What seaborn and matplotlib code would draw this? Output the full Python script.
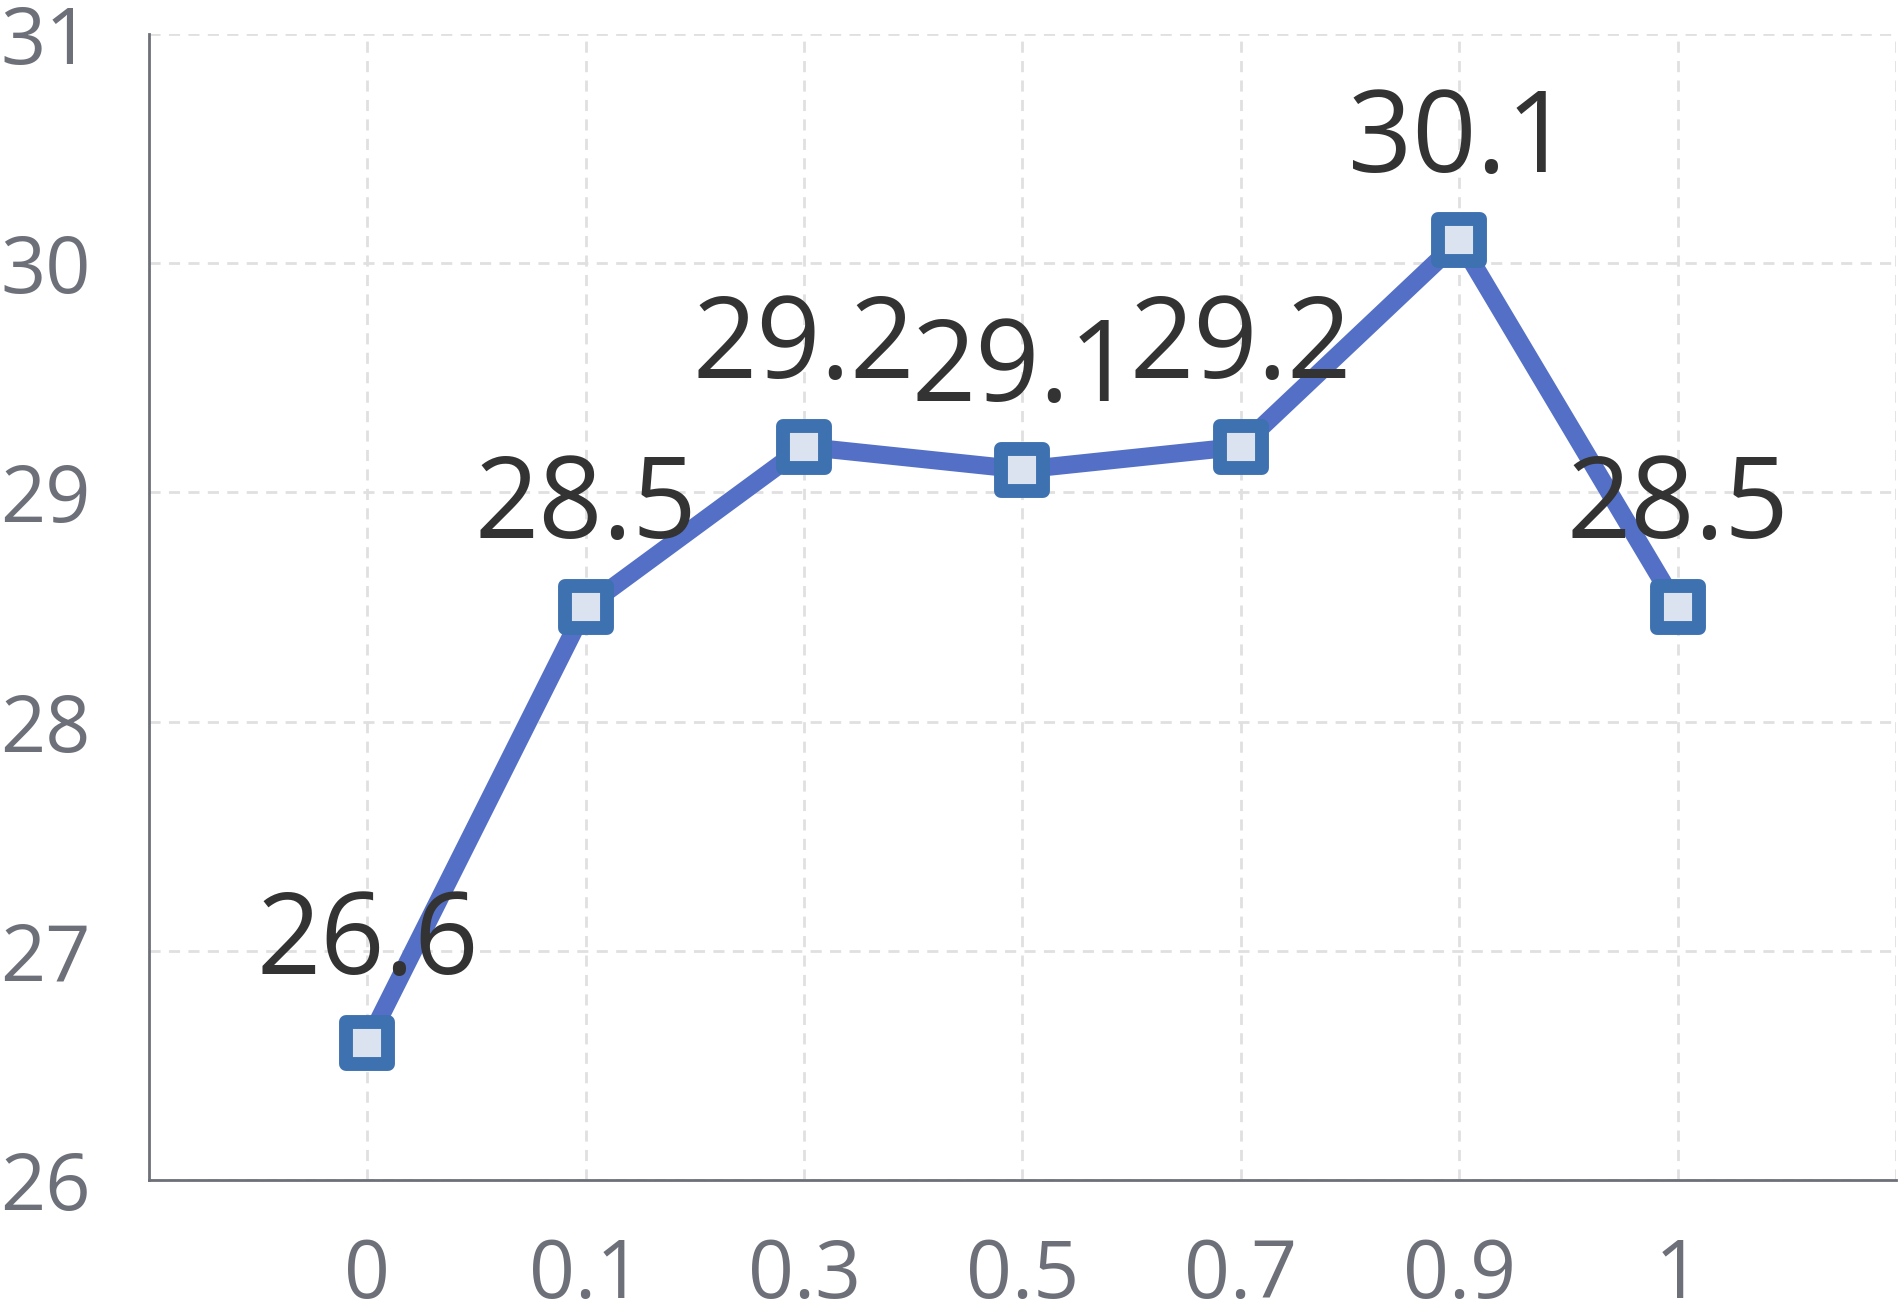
import numpy as np
import matplotlib.pyplot as plt
from matplotlib.markers import MarkerStyle
import seaborn as sns

# chart data
x_labels = ['0', '0.1', '0.3', '0.5', '0.7', '0.9', '1']
scores = [26.6, 28.5, 29.2, 29.1, 29.2, 30.1, 28.5]
y_ticks = [26, 27, 28, 29, 30, 31]

sns.set_style("white")
plt.rcParams['font.family'] = ['Open Sans', 'DejaVu Sans']

axis_color = '#6e7079'
grid_color = '#e0e0e0'

fig = plt.figure(figsize=(19.03, 13.12), dpi=100)
ax = fig.add_axes([0.0783, 0.1006, 0.918, 0.8734])

pos = np.arange(len(x_labels))

# dashed grid
for yv in y_ticks:
    ax.axhline(yv, color=grid_color, lw=2, ls=(0, (4, 3)), zorder=0)
for xv in list(pos) + [len(x_labels)]:
    ax.axvline(xv, color=grid_color, lw=2, ls=(0, (4, 3)), zorder=0)

marker = MarkerStyle('s', joinstyle='round')
sns.lineplot(x=pos, y=scores, ax=ax, color='#5470c6', linewidth=13,
             marker=marker, markersize=30, markeredgewidth=10,
             markeredgecolor='#3e71b0', markerfacecolor='#dce3f0', zorder=3)

for xv, yv in zip(pos, scores):
    ax.annotate(f'{yv}', (xv, yv), xytext=(0, 71), textcoords='offset points',
                ha='center', va='center', fontsize=81, color='#333333', zorder=4)

ax.set_xlim(-1, len(x_labels))
ax.set_ylim(26, 31)
ax.set_yticks(y_ticks)
ax.set_xticks(list(range(-1, len(x_labels) + 1)))
ax.set_xticklabels([''] + x_labels + [''])

for side in ['top', 'right']:
    ax.spines[side].set_visible(False)
for side in ['left', 'bottom']:
    ax.spines[side].set_color(axis_color)
    ax.spines[side].set_linewidth(2)

ax.tick_params(axis='y', length=11, width=2, color=axis_color, labelcolor=axis_color,
               labelsize=57, pad=31)
ax.tick_params(axis='x', length=8, width=2, color=axis_color, labelcolor=axis_color,
               labelsize=58, pad=33)
ax.set_xlabel('')
ax.set_ylabel('')

fig.savefig('out.png', dpi=100)
